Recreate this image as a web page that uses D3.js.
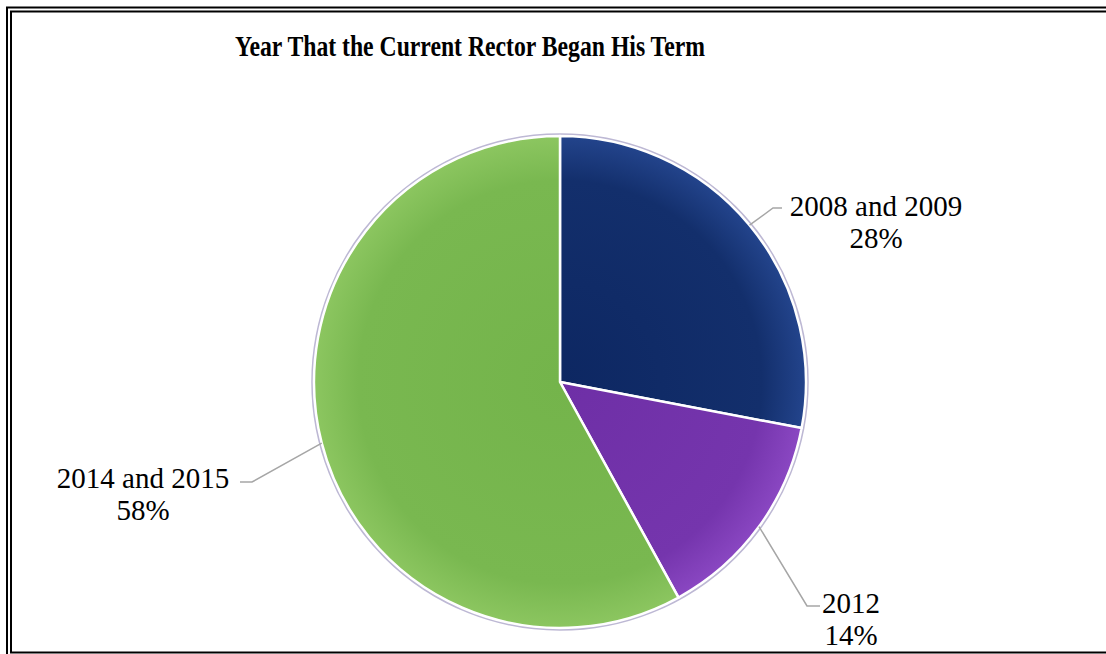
<!DOCTYPE html>
<html>
<head>
<meta charset="utf-8">
<script src="https://cdn.jsdelivr.net/npm/d3@7/dist/d3.min.js"></script>
<style>
html,body{margin:0;padding:0;background:#fff;}
svg{display:block;}
text{font-family:"Liberation Serif","Times New Roman",serif;}
</style>
</head>
<body>
<svg id="chart" width="1106" height="654"></svg>
<script>
const title = "Year That the Current Rector Began His Term";
const categories = ["2008 and 2009", "2012", "2014 and 2015"];
const values = [28, 14, 58];
const percentLabels = ["28%", "14%", "58%"];

const W = 1106, H = 654;
const svg = d3.select("#chart");
const cx = 560, cy = 382, R = 246;

// frame (double line)
svg.append("rect").attr("x", 7).attr("y", 7.5).attr("width", W + 20).attr("height", H + 20)
  .attr("fill", "none").attr("stroke", "#000").attr("stroke-width", 2);
svg.append("rect").attr("x", 11).attr("y", 11.5).attr("width", W + 20).attr("height", 641)
  .attr("fill", "none").attr("stroke", "#000").attr("stroke-width", 2);

svg.append("text").attr("x", 470).attr("y", 56).attr("text-anchor", "middle")
  .attr("font-size", 30).attr("font-weight", "bold")
  .attr("textLength", 470).attr("lengthAdjust", "spacingAndGlyphs").text(title);

const colors = [
  {inner: "#0d2762", mid: "#132f6c", outer: "#23448c"},
  {inner: "#6e2fa6", mid: "#7535ad", outer: "#8a47c2"},
  {inner: "#74b44b", mid: "#79b850", outer: "#8cc660"}
];
const defs = svg.append("defs");
colors.forEach((c, i) => {
  const gr = defs.append("radialGradient").attr("id", "g" + i)
    .attr("gradientUnits", "userSpaceOnUse").attr("cx", 0).attr("cy", 0).attr("r", R);
  gr.append("stop").attr("offset", "0%").attr("stop-color", c.inner);
  gr.append("stop").attr("offset", "82%").attr("stop-color", c.mid);
  gr.append("stop").attr("offset", "100%").attr("stop-color", c.outer);
});

const pie = d3.pie().sort(null).value(d => d)(values);
const arc = d3.arc().innerRadius(0).outerRadius(R);
const g = svg.append("g").attr("transform", `translate(${cx},${cy})`);

g.append("circle").attr("r", R + 1.5).attr("fill", "none").attr("stroke", "#bdb8d4").attr("stroke-width", 2.5);

g.selectAll("path.slice").data(pie).enter().append("path")
  .attr("class", "slice")
  .attr("d", arc)
  .attr("fill", (d, i) => `url(#g${i})`)
  .attr("stroke", "#ffffff").attr("stroke-width", 2.5).attr("stroke-linejoin", "round");

// labels layout: elbow point, end point, text anchor position
const layout = [
  {elbow: [773, 208], end: [782, 208], tx: 876, ty: 216},
  {elbow: [807, 606], end: [820, 606], tx: 851, ty: 613},
  {elbow: [252, 482], end: [240, 482], tx: 143, ty: 488}
];

pie.forEach((d, i) => {
  const a = (d.startAngle + d.endAngle) / 2;
  const sx = cx + R * Math.sin(a), sy = cy - R * Math.cos(a);
  const L = layout[i];
  svg.append("polyline")
    .attr("points", [[sx, sy], L.elbow, L.end].map(p => p.join(",")).join(" "))
    .attr("fill", "none").attr("stroke", "#a6a6a6").attr("stroke-width", 1.5);
  const t = svg.append("text").attr("text-anchor", "middle").attr("font-size", 29);
  t.append("tspan").attr("x", L.tx).attr("y", L.ty).text(categories[i]);
  t.append("tspan").attr("x", L.tx).attr("y", L.ty + 32).text(percentLabels[i]);
});
</script>
</body>
</html>
